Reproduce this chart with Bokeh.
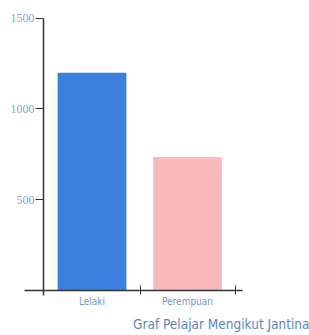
from bokeh.plotting import figure
from bokeh.models import Range1d, FixedTicker, Title
from bokeh.embed import file_html
from bokeh.resources import INLINE

categories = ["Lelaki", "Perempuan"]
positions = [1, 2]
values = [1200, 735]
colors = ["#3a80dc", "#f9b9be"]
y_ticks = [500, 1000, 1500]
title_text = "Graf Pelajar Mengikut Jantina"

p = figure(width=309, height=334, output_backend="svg", toolbar_location=None,
           x_range=Range1d(0.0419, 3.277), y_range=Range1d(-117.5, 1598),
           min_border_left=0, min_border_right=0, min_border_top=0, min_border_bottom=20)
p.outline_line_color = None
p.grid.visible = False

p.vbar(x=positions, top=values, width=0.72, bottom=0, color=colors, line_color=None)

ya = p.yaxis[0]
ya.fixed_location = 0.4921
ya.bounds = (-30, 1500)
ya.ticker = FixedTicker(ticks=y_ticks, minor_ticks=[])
ya.axis_line_color = "#333333"
ya.axis_line_width = 1.5
ya.major_tick_line_color = "#333333"
ya.major_tick_in = 0
ya.major_tick_out = 8
ya.major_label_text_font = "Liberation Serif"
ya.major_label_text_font_size = "12px"
ya.major_label_text_color = "#8aa2bd"
ya.major_label_standoff = 1

xa = p.xaxis[0]
xa.fixed_location = 0
xa.bounds = (0.2932, 2.576)
xa.ticker = FixedTicker(ticks=positions, minor_ticks=[1.508, 2.503])
xa.major_label_overrides = {1: categories[0], 2: categories[1]}
xa.axis_line_color = "#333333"
xa.axis_line_width = 1.5
xa.major_tick_line_color = None
xa.minor_tick_line_color = "#333333"
xa.minor_tick_in = 5
xa.minor_tick_out = 4
xa.major_label_text_font = "DejaVu Sans Condensed"
xa.major_label_text_font_size = "10px"
xa.major_label_text_color = "#6f97c4"
xa.major_label_standoff = 0

t = Title(text=title_text, align="right", text_font="DejaVu Sans Condensed",
          text_font_size="13.5px", text_color="#5b87b5", text_font_style="normal",
          standoff=5)
p.add_layout(t, "below")

open("out.html", "w").write(file_html(p, INLINE))
